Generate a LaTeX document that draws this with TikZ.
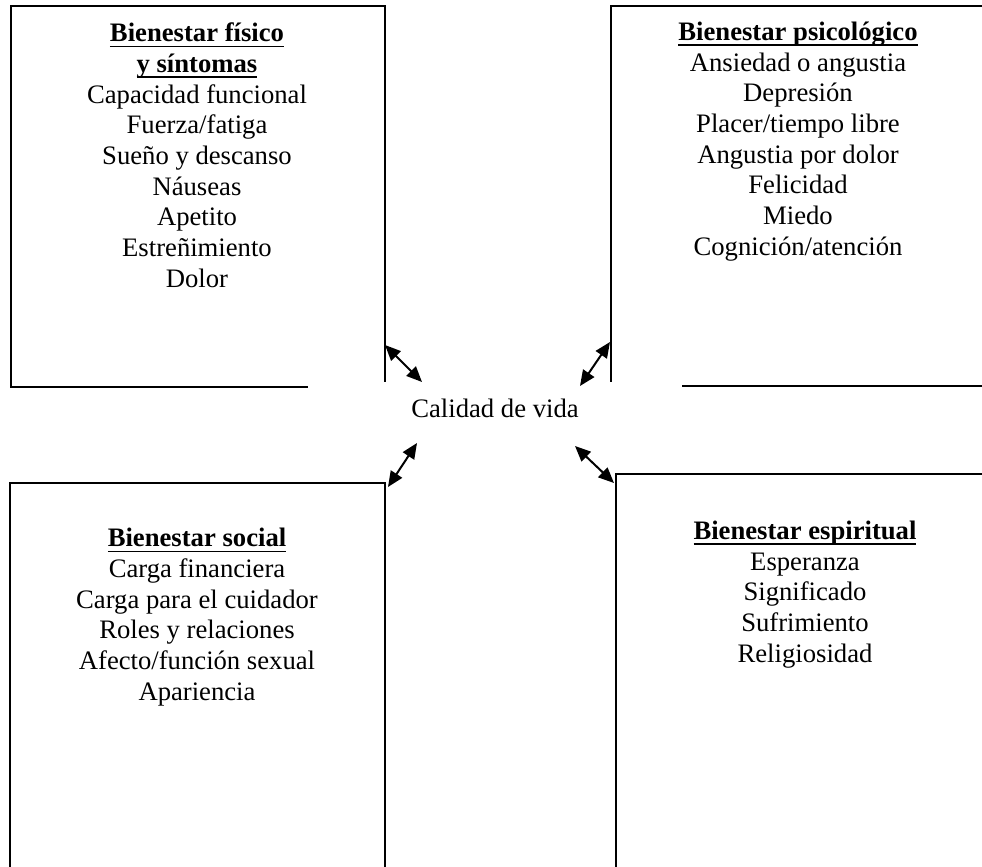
\documentclass[tikz,border=0pt]{standalone}
\usepackage{fontspec}
\setmainfont{Liberation Serif}
\usepackage{tikz}
\usetikzlibrary{arrows.meta,positioning}
\tikzstyle{area}  = [draw, line width=0.9pt, anchor=north west, inner sep=0pt]
\tikzstyle{items} = [align=center, anchor=base, inner sep=0pt]
\tikzstyle{arrow} = [line width=0.9pt, {Triangle[length=7pt,width=6pt]}-{Triangle[length=7pt,width=6pt]}]
\newsavebox{\headbox}
\newcommand{\ulhead}[1]{\sbox{\headbox}{\textbf{#1}}\rlap{\rule[-2.6pt]{\wd\headbox}{0.8pt}}\usebox{\headbox}}

\begin{document}
\begin{tikzpicture}[x=0.45pt,y=-0.45pt,every node/.style={font=\fontsize{12}{13.8}\selectfont}]
        \clip (0,0) rectangle (982,867);

        % the four areas
        \node[area, minimum width=168.3pt, minimum height=171.45pt] (fisico) at (10,5) {};
        \node[area, minimum width=169.2pt, minimum height=171pt] (psico) at (610,5) {};
        \node[area, minimum width=168.75pt, minimum height=188pt] (social) at (9,482) {};
        \node[area, minimum width=171pt, minimum height=192pt] (espiritual) at (615,473) {};

        % base = last line
        \node[items] (fisicoT) at (197,287) {\ulhead{Bienestar físico}\\ \ulhead{y síntomas}\\ Capacidad funcional\\ Fuerza/fatiga\\ Sueño y descanso\\ Náuseas\\ Apetito\\ Estreñimiento\\ Dolor};
        \node[items] (psicoT) at (798,255) {\ulhead{Bienestar psicológico}\\ Ansiedad o angustia\\ Depresión\\ Placer/tiempo libre\\ Angustia por dolor\\ Felicidad\\ Miedo\\ Cognición/atención};
        \node[items] (socialT) at (197,700) {\ulhead{Bienestar social}\\ Carga financiera\\ Carga para el cuidador\\ Roles y relaciones\\ Afecto/función sexual\\ Apariencia};
        \node[items] (espiritualT) at (805,662) {\ulhead{Bienestar espiritual}\\ Esperanza\\ Significado\\ Sufrimiento\\ Religiosidad};

        % centre
        \node[fill=white, minimum width=168.3pt, minimum height=23.4pt, inner sep=0pt] (calidad) at (495,408) {Calidad de vida};

        \coordinate (fis) at (385,345);
        \coordinate (cfis) at (422,382);
        \coordinate (psi) at (610,342);
        \coordinate (cpsi) at (580,386);
        \coordinate (soc) at (388,487);
        \coordinate (csoc) at (417,443);
        \coordinate (esp) at (614,483);
        \coordinate (cesp) at (575,446);

        \draw[arrow] (fis) -- (cfis);
        \draw[arrow] (psi) -- (cpsi);
        \draw[arrow] (soc) -- (csoc);
        \draw[arrow] (esp) -- (cesp);
\end{tikzpicture}
\end{document}
